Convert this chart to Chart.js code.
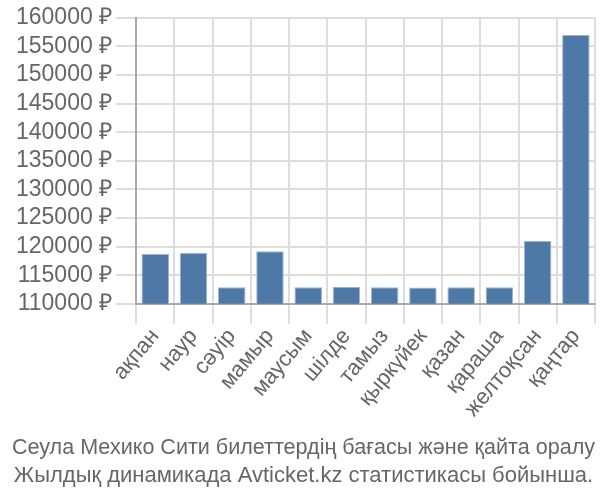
<!DOCTYPE html>
<html>
  <head>
    <meta charset="utf-8" />
    <title>Seoul - Mexico City</title>
    <script src="https://cdn.jsdelivr.net/npm/chart.js"></script>
    <style>
      body { margin: 0; background: #fff; }
      #wrap { width: 600px; height: 500px; }
    </style>
  </head>
  <body>
    <div id="wrap"><canvas id="myChart"></canvas></div>
    <script>
      // months (kk)
      const months = ["ақпан", "наур", "сәуір", "мамыр", "маусым", "шілде", "тамыз", "қыркүйек", "қазан", "қараша", "желтоқсан", "қаңтар"];
      const prices = [118700, 118900, 112900, 119200, 112900, 113000, 112900, 112850, 112900, 112900, 121000, 157000];
      const yMin = 110000;
      const yMax = 160000;
      const yStep = 5000;
      const titleLines = [
        "Сеула Мехико Сити билеттердің бағасы және қайта оралу",
        "Жылдық динамикада Avticket.kz статистикасы бойынша."
      ];

      var ctx = document.getElementById("myChart").getContext("2d");
      var myChart = new Chart(ctx, {
        type: "bar",
        data: {
          labels: months,
          datasets: [
            {
              label: "Баға",
              data: prices,
              backgroundColor: "#4e79a7",
              borderColor: "#9db6d2",
              borderWidth: 1,
            },
          ],
        },
        options: {
          responsive: true,
          maintainAspectRatio: false,
          animation: false,
          layout: { padding: { left: 12, right: 5, top: 0, bottom: 0 } },
          plugins: {
            legend: { display: false },
            title: {
              display: true,
              position: "bottom",
              text: titleLines,
              color: "#666",
              font: { family: "Liberation Sans", size: 22, weight: "normal", lineHeight: 1.27 },
              padding: { top: 12, bottom: 10 },
            },
            tooltip: { enabled: false },
          },
          scales: {
            x: {
              grid: { color: "#ddd", lineWidth: 2, tickLength: 20 },
              border: { color: "#aaa", width: 2 },
              ticks: {
                color: "#666",
                font: { family: "Liberation Sans", size: 22 },
                minRotation: 50,
                maxRotation: 50,
                autoSkip: false,
                padding: 0,
              },
            },
            y: {
              min: yMin,
              max: yMax,
              grid: { color: "#ddd", lineWidth: 2, tickLength: 20 },
              border: { color: "#aaa", width: 2 },
              ticks: {
                stepSize: yStep,
                autoSkip: false,
                color: "#666",
                font: { family: "Liberation Sans", size: 23 },
                padding: 4,
                callback: (v) => v + " ₽",
              },
            },
          },
        },
      });
    </script>
  </body>
</html>
